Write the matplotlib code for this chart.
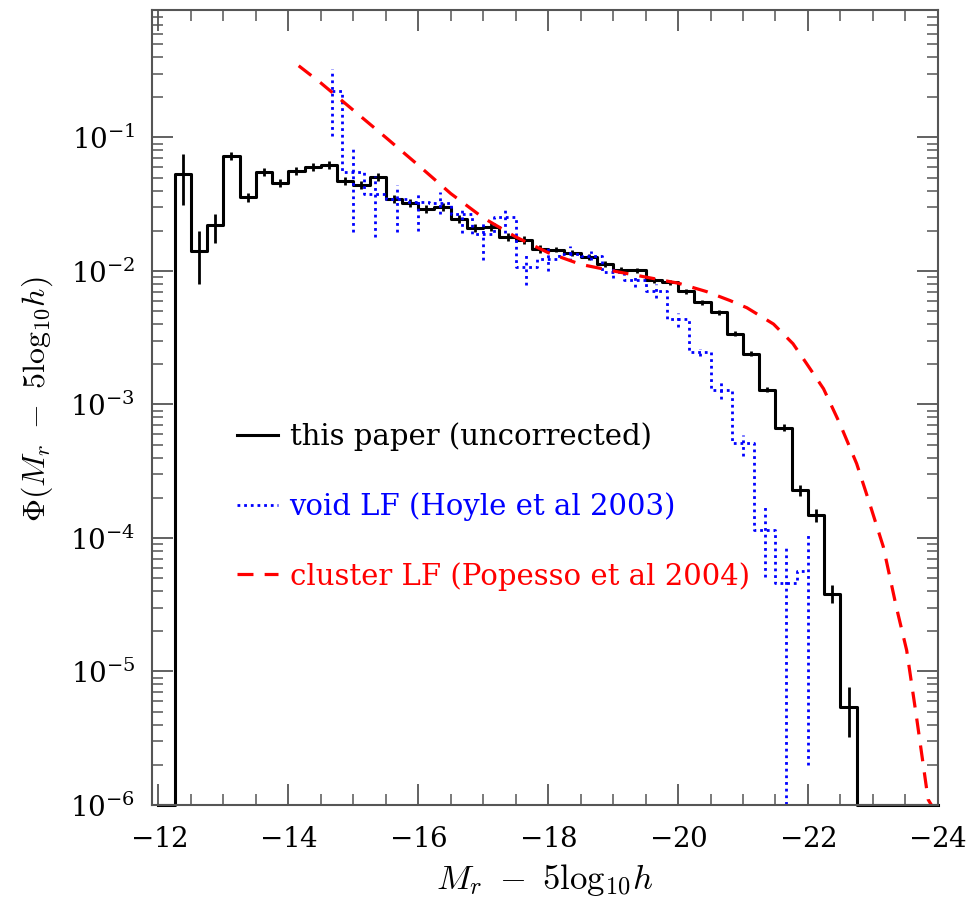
import numpy as np
import matplotlib
matplotlib.use("Agg")
import matplotlib.pyplot as plt
from matplotlib.ticker import MultipleLocator, LogLocator, NullFormatter

plt.rcParams['font.family'] = ['DejaVu Serif']
plt.rcParams['mathtext.fontset'] = 'cm'
plt.rcParams['axes.formatter.use_mathtext'] = True

# black histogram: this paper (uncorrected), 0.25 mag bins from -12 to -24
black_edges = np.arange(-12.0, -24.01, -0.25)
black_phi = [0, 0.053, 0.0142, 0.0219, 0.073, 0.0356, 0.0547, 0.0453,
             0.0564, 0.0597, 0.0625, 0.0474, 0.0443, 0.0508, 0.0346, 0.0323,
             0.0291, 0.0299, 0.0245, 0.0209, 0.0212, 0.0179, 0.0171, 0.0146,
             0.0144, 0.0136, 0.0127, 0.0113, 0.0102, 0.0101, 0.00848, 0.00823,
             0.00705, 0.00583, 0.00491, 0.00339, 0.0024, 0.00129, 6.7e-4, 2.28e-4,
             1.48e-4, 3.8e-5, 5.46e-6, 0, 0, 0, 0, 0]
# error bars in dex (up / down)
black_up = [0, 0.155, 0.15, 0.086, 0.03, 0.035, 0.03, 0.03,
            0.03, 0.03, 0.03, 0.03, 0.03, 0.03, 0.03, 0.03,
            0.03, 0.03, 0.03, 0.03, 0.03, 0.03, 0.03, 0.03,
            0.02, 0.02, 0.02, 0.02, 0.02, 0.02, 0.02, 0.02,
            0.02, 0.02, 0.02, 0.02, 0.02, 0.02, 0.025, 0.04,
            0.05, 0.07, 0.15, 0, 0, 0, 0, 0]
black_dn = [0, 0.23, 0.25, 0.128, 0.03, 0.035, 0.03, 0.03,
            0.03, 0.03, 0.03, 0.03, 0.03, 0.03, 0.03, 0.03,
            0.03, 0.03, 0.03, 0.03, 0.03, 0.03, 0.03, 0.03,
            0.02, 0.02, 0.02, 0.02, 0.02, 0.02, 0.02, 0.02,
            0.02, 0.02, 0.02, 0.02, 0.02, 0.02, 0.025, 0.04,
            0.05, 0.07, 0.23, 0, 0, 0, 0, 0]

# void LF (Hoyle et al 2003)
void_M = [-14.667, -15.0, -15.333, -15.667, -16.0, -16.333, -16.667, -17.0,
          -17.333, -17.667, -18.0, -18.333, -18.667, -19.0, -19.333, -19.667,
          -20.0, -20.333, -20.667, -21.0, -21.333, -21.667, -22.0]
void_phi = [0.223, 0.0547, 0.0377, 0.0346, 0.0327, 0.0325, 0.0268, 0.0190,
            0.0255, 0.0107, 0.0122, 0.0134, 0.0130, 0.0098, 0.0085, 0.0071,
            0.0044, 0.00247, 0.00128, 5.1e-4, 1.15e-4, 4.6e-5, 5.7e-5]
void_hi = [0.325, 0.0818, 0.0518, 0.0437, 0.0389, 0.0389, 0.0292, 0.0231,
           0.0299, 0.0135, 0.0151, 0.0155, 0.0140, 0.0108, 0.0090, 0.0080,
           0.0048, 0.0026, 0.00148, 5.9e-4, 1.7e-4, 8.9e-5, 1.05e-4]
void_lo = [0.103, 0.0195, 0.0179, 0.0195, 0.020, 0.0269, 0.0191, 0.0120,
           0.0191, 0.0078, 0.0100, 0.0118, 0.0120, 0.0088, 0.0076, 0.0063,
           0.0038, 0.0023, 0.0011, 4.1e-4, 5.1e-5, 0, 2.0e-6]

# cluster LF (Popesso et al 2004)
clus_M = [-14.16, -14.5, -15.0, -15.5, -16.0, -16.5, -17.0, -17.5, -18.0,
          -18.5, -19.0, -19.5, -20.0, -20.44, -20.80, -21.06, -21.47, -21.77,
          -21.98, -22.24, -22.49, -22.75, -22.95, -23.16, -23.36, -23.52,
          -23.67, -23.85, -23.9]
clus_phi = [0.344, 0.256, 0.16, 0.10, 0.062, 0.038, 0.025, 0.018, 0.0137,
            0.0112, 0.0100, 0.0090, 0.0081, 0.0070, 0.0060, 0.0053, 0.0040,
            0.00285, 0.00202, 0.00131, 7.2e-4, 3.6e-4, 1.81e-4, 8.6e-5,
            3.05e-5, 1.44e-5, 4.6e-6, 1.1e-6, 1.0e-6]

ymin, ymax = 1e-6, 0.9

fig = plt.figure(figsize=(9.8, 9.1), dpi=100)
ax = fig.add_axes([0.155, 0.1154, 0.802, 0.8736])

bp = np.clip(np.array(black_phi), ymin, None)
line_b, = ax.step(black_edges, np.append(bp, bp[-1]), where='post', color='black',
                  lw=2.2, clip_on=False, label='this paper (uncorrected)')
bc = (black_edges[:-1] + black_edges[1:]) / 2
ok = np.array(black_phi) > 0
bphi = np.array(black_phi)[ok]
ax.vlines(bc[ok], bphi / 10**np.array(black_dn)[ok], bphi * 10**np.array(black_up)[ok],
          color='black', lw=2.0)

line_v, = ax.step(void_M, void_phi, where='mid', color='blue', lw=2.0,
                  dashes=(1, 1.4), label='void LF (Hoyle et al 2003)')
ax.vlines(void_M, np.clip(void_lo, 1e-7, None), void_hi, color='blue', lw=2.0,
          linestyles=(0, (1, 1.4)))

line_c, = ax.plot(clus_M, clus_phi, color='red', lw=2.3, dashes=(5, 3.5),
                  label='cluster LF (Popesso et al 2004)')

ax.set_yscale('log')
ax.set_xlim(-11.9, -24.0)
ax.set_ylim(ymin, ymax)
ax.xaxis.set_major_locator(MultipleLocator(2))
ax.xaxis.set_minor_locator(MultipleLocator(0.5))
ax.yaxis.set_major_locator(LogLocator(base=10, numticks=20))
ax.yaxis.set_minor_locator(LogLocator(base=10, subs=np.arange(2, 10), numticks=20))
ax.yaxis.set_minor_formatter(NullFormatter())

ax.tick_params(which='both', direction='in', top=True, right=True, color='#555555')
ax.tick_params(which='major', length=15, width=1.3, labelsize=20)
ax.tick_params(axis='x', which='major', pad=15)
ax.tick_params(axis='y', which='major', pad=12)
ax.tick_params(which='minor', length=8, width=1.1)
for s in ax.spines.values():
    s.set_color('#555555')
    s.set_linewidth(1.5)

ax.set_xlabel(r'$M_r\ -\ 5\mathrm{log}_{10}h$', fontsize=25)
ax.set_ylabel(r'$\Phi(M_r\ -\ 5\mathrm{log}_{10}h)$', fontsize=23)
ax.xaxis.set_label_coords(0.5, -0.072)
ax.yaxis.set_label_coords(-0.123, 0.51)

leg = ax.legend(handles=[line_b, line_v, line_c], loc='upper left',
                bbox_to_anchor=(0.108, 0.481), frameon=False, fontsize=21,
                handlelength=1.4, handletextpad=0.41, labelspacing=1.4,
                borderpad=0, borderaxespad=0, labelcolor='linecolor')

fig.savefig('out.png', dpi=100)
